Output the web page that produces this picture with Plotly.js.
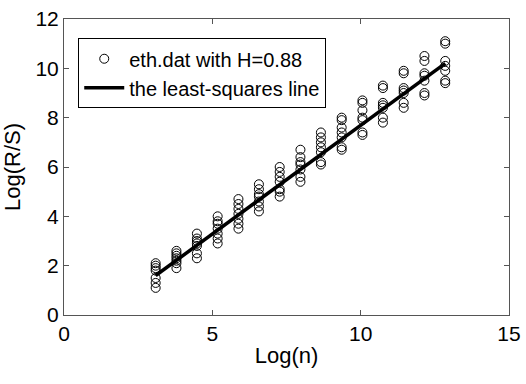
<!DOCTYPE html>
<html><head><meta charset="utf-8">
<script src="https://cdn.plot.ly/plotly-3.0.1.min.js"></script>
<style>html,body{margin:0;padding:0;background:#fff}#c{width:526px;height:384px}</style>
</head><body><div id="c"></div>
<script>
const xLevels = [3.09, 3.79, 4.48, 5.18, 5.88, 6.57, 7.27, 7.97, 8.66, 9.36, 10.06, 10.75, 11.45, 12.15, 12.85];
const yGroups = [
  [1.1, 1.3, 1.5, 1.8, 1.9, 2.0, 2.1],
  [1.9, 2.1, 2.2, 2.3, 2.4, 2.5, 2.6],
  [2.3, 2.5, 2.8, 2.9, 3.0, 3.1, 3.3],
  [2.9, 3.1, 3.3, 3.5, 3.7, 3.8, 4.0],
  [3.5, 3.7, 3.9, 4.1, 4.3, 4.5, 4.7],
  [4.2, 4.4, 4.6, 4.8, 4.9, 5.1, 5.3],
  [4.8, 5.0, 5.1, 5.4, 5.6, 5.8, 6.0],
  [5.4, 5.6, 5.9, 6.1, 6.2, 6.4, 6.7],
  [6.1, 6.2, 6.6, 6.8, 7.0, 7.2, 7.4],
  [6.7, 6.8, 7.2, 7.4, 7.6, 7.9, 8.0],
  [7.3, 7.4, 7.9, 8.0, 8.3, 8.6, 8.7],
  [7.8, 8.0, 8.4, 8.5, 8.6, 9.2, 9.3],
  [8.4, 8.6, 9.0, 9.1, 9.2, 9.8, 9.9],
  [8.9, 9.0, 9.5, 9.7, 9.8, 10.3, 10.5],
  [9.4, 9.5, 9.9, 10.1, 10.3, 11.0, 11.1]
];
const lineX = [3.09, 12.85];
const lineY = [1.60, 10.20];
const scatterName = 'eth.dat with H=0.88';
const lineName = 'the least-squares line';

const px = [], py = [];
xLevels.forEach((x, i) => yGroups[i].forEach(y => { px.push(x); py.push(y); }));

const font = 'Liberation Sans, Arial, Helvetica, sans-serif';
const data = [
  {x: px, y: py, type: 'scatter', mode: 'markers', name: scatterName,
   marker: {symbol: 'circle-open', size: 9, color: '#000', line: {width: 1, color: '#000'}}},
  {x: lineX, y: lineY, type: 'scatter', mode: 'lines', name: lineName,
   line: {color: '#000', width: 3.5}}
];
const axisCommon = {showgrid: false, zeroline: false, showline: true, linecolor: '#555', linewidth: 1,
  mirror: 'ticks', ticks: 'inside', ticklen: 5, tickcolor: '#555',
  tickfont: {family: font, size: 21, color: '#000'}};
const layout = {
  width: 526, height: 384,
  margin: {l: 64, r: 17, t: 19, b: 69},
  paper_bgcolor: '#fff', plot_bgcolor: '#fff',
  showlegend: true,
  legend: {x: 0.032, y: 0.935, xanchor: 'left', yanchor: 'top', bgcolor: '#fff',
    bordercolor: '#000', borderwidth: 1, font: {family: font, size: 20, color: '#000'},
    itemwidth: 40},
  xaxis: Object.assign({}, axisCommon, {range: [0, 15], tickvals: [0, 5, 10, 15],
    title: {text: 'Log(n)', font: {family: font, size: 22, color: '#000'}, standoff: 3}}),
  yaxis: Object.assign({}, axisCommon, {range: [0, 12], tickvals: [0, 2, 4, 6, 8, 10, 12],
    title: {text: 'Log(R/S)', font: {family: font, size: 22, color: '#000'}, standoff: 8}})
};
Plotly.newPlot('c', data, layout, {displayModeBar: false, staticPlot: true});
</script></body></html>
